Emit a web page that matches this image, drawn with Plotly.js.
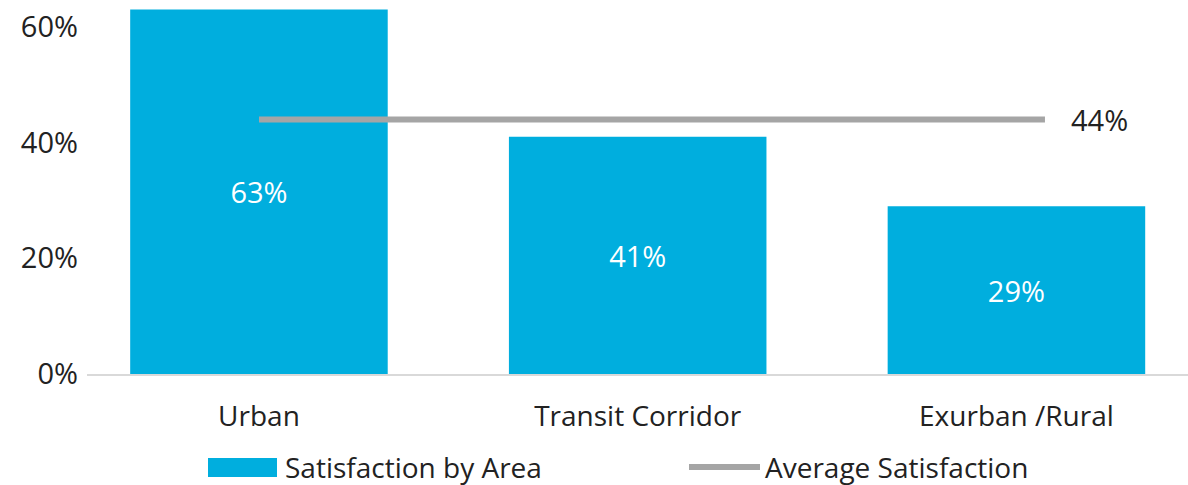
<!DOCTYPE html>
<html>
<head>
<meta charset="utf-8">
<script src="https://cdn.plot.ly/plotly-3.0.1.min.js"></script>
<style>html,body{margin:0;padding:0;background:#fff;}#chart{width:1188px;height:485px;}</style>
</head>
<body>
<div id="chart"></div>
<script>
const categories = ["Urban", "Transit Corridor", "Exurban /Rural"];
const satisfaction = [0.63, 0.41, 0.29];
const average = [0.44, 0.44, 0.44];
const seriesNames = ["Satisfaction by Area", "Average Satisfaction"];
const yTicks = [0, 0.2, 0.4, 0.6];
const yTickText = ["0%", "20%", "40%", "60%"];

const FONT = "Open Sans, Noto Sans, sans-serif";
const BLUE = "#00AEDE";
const GRAY = "#A5A5A5";
const TXT = 28;
const NUM = 29;

const bar = {
  type: "bar", x: categories, y: satisfaction, name: seriesNames[0],
  marker: {color: BLUE}, width: 0.68,
  text: satisfaction.map(v => Math.round(v * 100) + "%"),
  textposition: "inside", insidetextanchor: "middle",
  textfont: {color: "#ffffff", size: NUM, family: FONT},
  hoverinfo: "skip", showlegend: false
};
const line = {
  type: "scatter", mode: "lines", x: categories, y: average, name: seriesNames[1],
  xaxis: "x2", line: {color: GRAY, width: 6}, hoverinfo: "skip", showlegend: false
};

const last = average.length - 1;
const layout = {
  width: 1188, height: 485,
  margin: {l: 87, r: 0, t: 0, b: 111},
  paper_bgcolor: "#fff", plot_bgcolor: "#fff",
  font: {family: FONT, size: TXT, color: "#222"},
  xaxis: {
    type: "category", range: [-0.454, 2.453], showgrid: false, zeroline: false,
    showline: true, linecolor: "#D9D9D9", linewidth: 1.5, ticks: "",
    ticklabelstandoff: 17, tickfont: {size: TXT, color: "#222", family: FONT}
  },
  xaxis2: {
    type: "category", overlaying: "x", range: [-0.4377, 2.364], visible: false
  },
  yaxis: {
    range: [0, 0.6465], showgrid: false, zeroline: false, showline: false,
    tickvals: yTicks, ticktext: yTickText, ticks: "", ticklabelstandoff: 8,
    tickfont: {size: NUM, color: "#222", family: FONT}
  },
  annotations: [
    {xref: "x2", yref: "y", x: categories[last], y: average[last],
     text: Math.round(average[last] * 100) + "%", showarrow: false,
     xanchor: "left", yanchor: "middle", xshift: 24,
     font: {size: NUM, color: "#222", family: FONT}},
    {xref: "paper", yref: "paper", x: (283 - 87) / 1101, y: -(467 - 374) / 374,
     text: seriesNames[0], showarrow: false, xanchor: "left", yanchor: "middle",
     font: {size: TXT, color: "#222", family: FONT}},
    {xref: "paper", yref: "paper", x: (763 - 87) / 1101, y: -(467 - 374) / 374,
     text: seriesNames[1], showarrow: false, xanchor: "left", yanchor: "middle",
     font: {size: TXT, color: "#222", family: FONT}}
  ],
  shapes: [
    {type: "rect", xref: "paper", yref: "paper",
     x0: (208 - 87) / 1101, x1: (277 - 87) / 1101,
     y0: -(477 - 374) / 374, y1: -(458 - 374) / 374,
     fillcolor: BLUE, line: {width: 0}},
    {type: "line", xref: "paper", yref: "paper",
     x0: (689 - 87) / 1101, x1: (760 - 87) / 1101,
     y0: -(467 - 374) / 374, y1: -(467 - 374) / 374,
     line: {color: GRAY, width: 6}}
  ],
  showlegend: false
};

Plotly.newPlot("chart", [bar, line], layout, {displayModeBar: false, staticPlot: true});
</script>
</body>
</html>
